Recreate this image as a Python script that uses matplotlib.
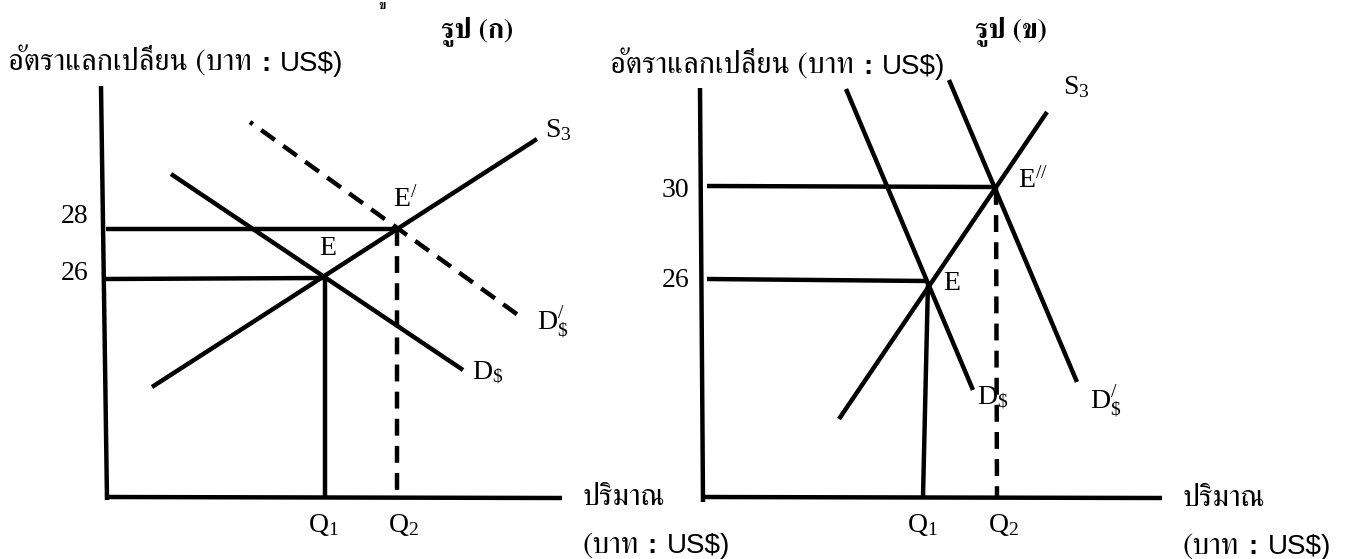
import matplotlib
matplotlib.use("Agg")
import matplotlib.pyplot as plt

plt.rcParams['mathtext.fontset'] = 'custom'
plt.rcParams['mathtext.rm'] = 'Liberation Serif'
plt.rcParams['mathtext.it'] = 'Liberation Serif'

W, H = 1345, 559

# ---- รูป (ก) : line segments (pixel units) ----
ka_yaxis = [(101, 86), (107, 500)]
ka_xaxis = [(105, 497), (562, 498)]
ka_demand = [(171, 174), (463, 370)]
ka_supply = [(152, 387), (537, 139)]
ka_demand_new = [(250, 122), (525, 320)]
ka_h28 = [(106, 229), (396, 229)]
ka_h26 = [(106, 279), (323, 278)]
ka_q1 = [(325, 278), (325, 497)]
ka_q2 = [(397, 229), (397, 497)]

# ---- รูป (ข) ----
kh_yaxis = [(700, 88), (703, 502)]
kh_xaxis = [(701, 497), (1162, 498)]
kh_demand = [(846, 89), (973, 390)]
kh_demand_new = [(949, 80), (1077, 382)]
kh_supply = [(839, 419), (1047, 112)]
kh_h30 = [(707, 186), (996, 187)]
kh_h26 = [(707, 279), (928, 281)]
kh_q1 = [(928, 282), (923, 497)]
kh_q2 = [(996, 188), (997, 497)]

# labels: (text, x, baseline y)
serif_labels = [
    ("28", 61, 223), ("26", 61, 280),
    ("E", 319, 255), (r"E$^{/}$", 393, 207),
    (r"S$_{3}$", 545, 137), (r"D$^{/}_{\$}$", 537, 331), (r"D$_{\$}$", 472, 380),
    (r"Q$_{1}$", 308, 532), (r"Q$_{2}$", 388, 532),
    ("30", 662, 197), ("26", 662, 287),
    ("E", 943, 290), (r"E$^{//}$", 1018, 188),
    (r"S$_{3}$", 1063, 94), (r"D$_{\$}$", 977, 405), (r"D$^{/}_{\$}$", 1090, 410),
    (r"Q$_{1}$", 907, 532), (r"Q$_{2}$", 988, 532),
]
ylabel_thai = "อัตราแลกเปลี่ยน (บาท"
ylabel_pos = [(8, 71), (610, 74)]
xlabel_top = "ปริมาณ"
xlabel_thai = "(บาท"
xlabel_pos = [(582, 505, 553), (1183, 506, 554)]
unit_tail = "US$)"
titles = [("รูป (ก)", 477, 37), ("รูป (ข)", 1011, 37)]

fig = plt.figure(figsize=(W / 100, H / 100), dpi=100)
ax = fig.add_axes([0, 0, 1, 1])
ax.set_xlim(0, W)
ax.set_ylim(H, 0)
ax.axis('off')

LW = 3.2
DASH = (3.8, 2.3)

THAI = dict(fontsize=22, family=['FreeSerif'])
COLON = dict(fontsize=20, family=['Liberation Sans'], weight='bold')
SANS = dict(fontsize=20, family=['Liberation Sans'])


def seg(pts, dashed=False, offset=0.0):
    xs = [p[0] for p in pts]
    ys = [p[1] for p in pts]
    if dashed:
        ax.plot(xs, ys, color='black', lw=LW, linestyle=(offset, DASH),
                dash_capstyle='butt')
    else:
        ax.plot(xs, ys, color='black', lw=LW, solid_capstyle='butt')


def inline(x, y, pieces):
    # write pieces one after another on the same baseline
    r = fig.canvas.get_renderer()
    for txt, kw, gap in pieces:
        t = ax.text(x, y, txt, ha='left', va='baseline', **kw)
        bb = t.get_window_extent(renderer=r)
        x = ax.transData.inverted().transform((bb.x1, bb.y0))[0] + gap


for s in [ka_yaxis, ka_xaxis, ka_demand, ka_supply, ka_h28, ka_h26, ka_q1,
          kh_yaxis, kh_xaxis, kh_demand, kh_demand_new, kh_supply,
          kh_h30, kh_h26, kh_q1]:
    seg(s)
seg(ka_demand_new, dashed=True, offset=3.0)
seg(ka_q2, dashed=True)
seg(kh_q2, dashed=True)

for t, x, y in serif_labels:
    ax.text(x, y, t, fontsize=20, family='Liberation Serif', ha='left', va='baseline')

for x, y in ylabel_pos:
    inline(x, y, [(ylabel_thai, THAI, 9), (":", COLON, 10), (unit_tail, SANS, 0)])
for x, y1, y2 in xlabel_pos:
    ax.text(x, y1, xlabel_top, ha='left', va='baseline', **THAI)
    inline(x, y2, [(xlabel_thai, THAI, 9), (":", COLON, 10), (unit_tail, SANS, 0)])
for t, x, y in titles:
    ax.text(x, y, t, fontsize=20, family=['FreeSerif'], weight='bold', ha='center', va='baseline')
# small character at the very top edge
ax.text(382, 0, "ข", fontsize=9, family=['FreeSerif'], weight='bold', ha='center', va='top')

fig.savefig("out.png", dpi=100)
